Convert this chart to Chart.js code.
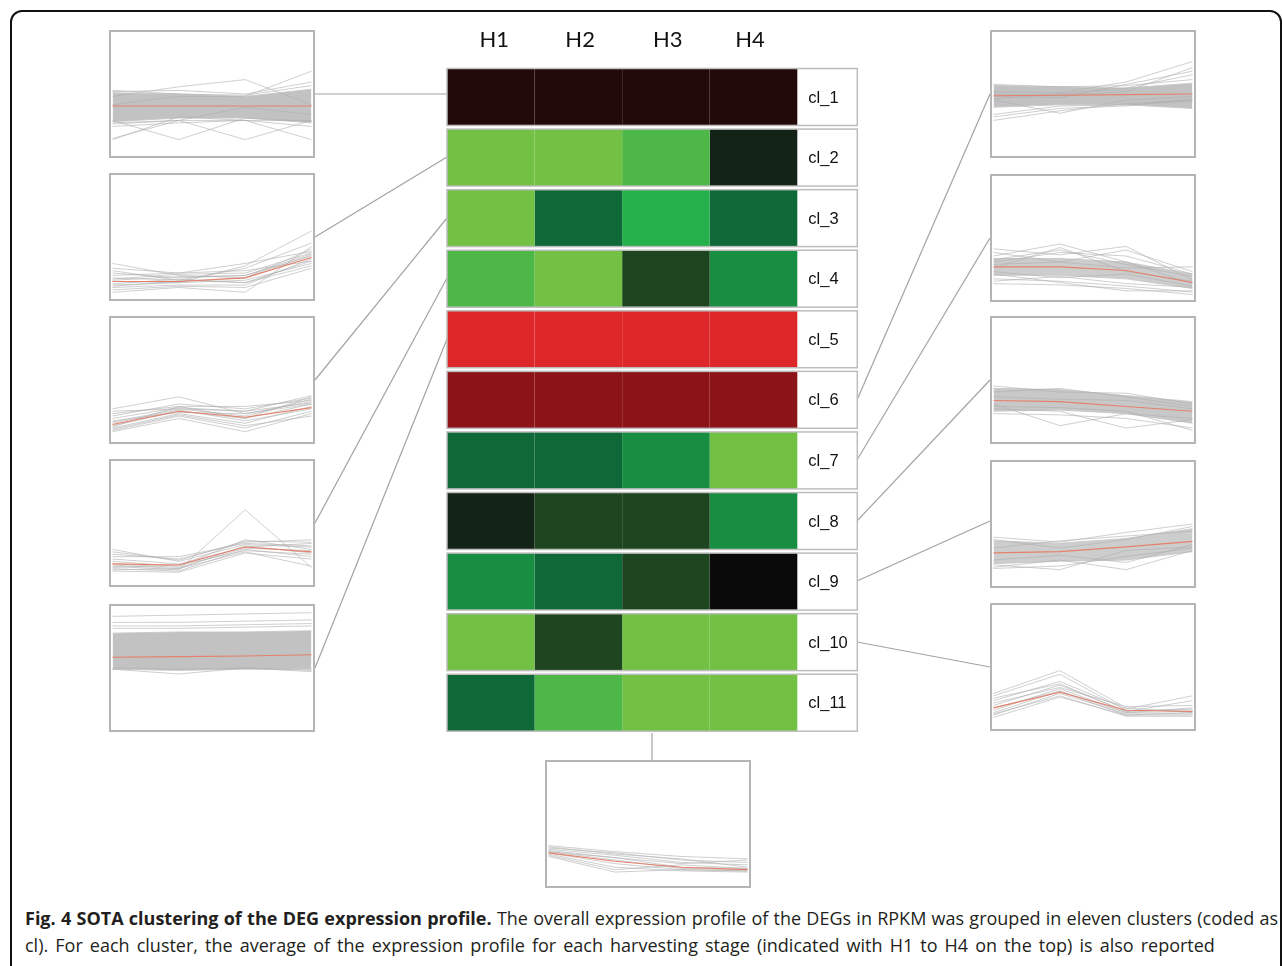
<!DOCTYPE html>
<html>
<head>
<meta charset="utf-8">
<script src="https://cdn.jsdelivr.net/npm/chart.js@4.4.1/dist/chart.umd.min.js"></script>
<style>
  html, body { margin: 0; padding: 0; background: #fff; }
  body { width: 1282px; height: 966px; position: relative; overflow: hidden; }
  .frame { position: absolute; left: 10px; top: 10px; width: 1272px; height: 1000px;
           border: 2px solid #111; border-radius: 12px; box-sizing: border-box; }
  .panel { position: absolute; width: 206px; height: 128px; box-sizing: border-box;
           border: 2px solid #b5b5b5; background: #fff; }
  .panel canvas { position: absolute; left: 0; top: 0; }
  #heat { position: absolute; left: 440px; top: 0px; }
  svg.links { position: absolute; left: 0; top: 0; }
  .caption { position: absolute; left: 25px; top: 905px; width: 1253px;
             font-family: "Open Sans", "Noto Sans", sans-serif; font-size: 18px; line-height: 27px;
             color: #231f20; text-align: justify; }
  .caption b { font-weight: 700; }
  .caption .rest { word-spacing: 2.4px; }
</style>
</head>
<body>
<div class="frame"></div>

<svg class="links" width="1282" height="966">
  <g stroke="#a3a3a3" stroke-width="1.2" fill="none">
    <line x1="315" y1="94"  x2="447" y2="94"/>
    <line x1="315" y1="237" x2="447" y2="157"/>
    <line x1="315" y1="380" x2="447" y2="218"/>
    <line x1="315" y1="523" x2="447" y2="278"/>
    <line x1="315" y1="668" x2="447" y2="339"/>
    <line x1="857" y1="400" x2="990" y2="94"/>
    <line x1="857" y1="460" x2="990" y2="238"/>
    <line x1="857" y1="521" x2="990" y2="380"/>
    <line x1="857" y1="581" x2="990" y2="521"/>
    <line x1="857" y1="642" x2="990" y2="667"/>
    <line x1="652" y1="733" x2="652" y2="760"/>
  </g>
</svg>

<canvas id="heat" width="425" height="740"></canvas>

<div class="panel" style="left:109px;top:30px"><canvas id="p1" width="202" height="124"></canvas></div>
<div class="panel" style="left:109px;top:173px"><canvas id="p2" width="202" height="124"></canvas></div>
<div class="panel" style="left:109px;top:316px"><canvas id="p3" width="202" height="124"></canvas></div>
<div class="panel" style="left:109px;top:459px"><canvas id="p4" width="202" height="124"></canvas></div>
<div class="panel" style="left:109px;top:604px"><canvas id="p5" width="202" height="124"></canvas></div>
<div class="panel" style="left:990px;top:30px"><canvas id="p6" width="202" height="124"></canvas></div>
<div class="panel" style="left:990px;top:174px"><canvas id="p7" width="202" height="124"></canvas></div>
<div class="panel" style="left:990px;top:316px"><canvas id="p8" width="202" height="124"></canvas></div>
<div class="panel" style="left:990px;top:460px"><canvas id="p9" width="202" height="124"></canvas></div>
<div class="panel" style="left:990px;top:603px"><canvas id="p10" width="202" height="124"></canvas></div>
<div class="panel" style="left:545px;top:760px"><canvas id="p11" width="202" height="124"></canvas></div>

<div class="caption"><b>Fig. 4 SOTA clustering of the DEG expression profile.</b> The overall expression profile of the DEGs in RPKM was grouped in eleven clusters (coded as<span class="rest"> cl). For each cluster, the average of the expression profile for each harvesting stage (indicated with H1 to H4 on the top) is also reported</span></div>

<script>
// ---- heatmap: harvesting stages x clusters ----
const stages = ['H1', 'H2', 'H3', 'H4'];
const clusters = ['cl_1', 'cl_2', 'cl_3', 'cl_4', 'cl_5', 'cl_6', 'cl_7', 'cl_8', 'cl_9', 'cl_10', 'cl_11'];
// where each stage heading sits along the stage axis
const stageTickPos = [0.54, 1.52, 2.52, 3.46];

// average expression colour of each cluster at each stage (red = up, green = down)
const h1Colors = ['#220a0b', '#72c145', '#72c145', '#4db848', '#dd2728', '#8c1419', '#0f6837', '#132317', '#178e41', '#72c145', '#0f6837'];
const h2Colors = ['#220a0b', '#72c145', '#0f6837', '#72c145', '#dd2728', '#8c1419', '#0f6837', '#1c4520', '#0f6837', '#1c4520', '#4db848'];
const h3Colors = ['#220a0b', '#4db848', '#25b04b', '#1c4520', '#dd2728', '#8c1419', '#178e41', '#1c4520', '#1c4520', '#72c145', '#72c145'];
const h4Colors = ['#220a0b', '#132317', '#0f6837', '#178e41', '#dd2728', '#8c1419', '#72c145', '#178e41', '#0a0a0a', '#72c145', '#72c145'];
const stageColors = [h1Colors, h2Colors, h3Colors, h4Colors];

// each stage cell spans one unit; the name cell is narrower
const cellWidth = 1;
const nameCellWidth = 0.685;

const rowFrame = {
  id: 'rowFrame',
  afterDatasetsDraw(chart) {
    const ctx = chart.ctx;
    const first = chart.getDatasetMeta(0).data;
    const last = chart.getDatasetMeta(stages.length).data;
    ctx.save();
    ctx.strokeStyle = '#bdbdbd';
    ctx.lineWidth = 1.5;
    first.forEach((bar, i) => {
      const p = bar.getProps(['y', 'base', 'height'], true);
      const right = last[i].getProps(['x'], true).x;
      ctx.strokeRect(p.base, p.y - p.height / 2, right - p.base, p.height);
    });
    ctx.fillStyle = '#111';
    ctx.font = '16.5px "Liberation Sans", Arial, sans-serif';
    ctx.textAlign = 'left';
    ctx.textBaseline = 'middle';
    last.forEach((bar, i) => {
      const p = bar.getProps(['y', 'base'], true);
      ctx.fillText(clusters[i], p.base + 11, p.y + 1);
    });
    ctx.restore();
  }
};

const heatDatasets = stages.map((s, k) => ({
  label: s,
  data: clusters.map(() => cellWidth),
  backgroundColor: stageColors[k],
  borderWidth: 0,
  barPercentage: 0.94,
  categoryPercentage: 1
}));
heatDatasets.push({
  label: 'cluster',
  data: clusters.map(() => nameCellWidth),
  backgroundColor: '#ffffff',
  borderWidth: 0,
  barPercentage: 0.94,
  categoryPercentage: 1
});

new Chart(document.getElementById('heat'), {
  type: 'bar',
  data: { labels: clusters, datasets: heatDatasets },
  options: {
    indexAxis: 'y',
    responsive: false,
    animation: false,
    layout: { padding: { left: 7, right: 7.7, top: 0, bottom: 7 } },
    plugins: { legend: { display: false }, tooltip: { enabled: false } },
    scales: {
      x: {
        type: 'linear', position: 'top', stacked: true,
        min: 0, max: stages.length * cellWidth + nameCellWidth,
        grid: { display: false, drawTicks: false },
        border: { display: false },
        afterBuildTicks(scale) { scale.ticks = stageTickPos.map(v => ({ value: v })); },
        afterFit(scale) { scale.height = 66.7; },
        ticks: {
          padding: 14,
          color: '#111',
          font: { family: 'Lato, "Open Sans", sans-serif', size: 22 },
          callback: (v) => stages[stageTickPos.indexOf(v)]
        }
      },
      y: { stacked: true, display: false }
    }
  },
  plugins: [rowFrame]
});

// ---- expression profiles of every cluster (relative RPKM, 4 stages) ----
const cl1Mean = [40, 40, 40, 40];
const cl1Upper = [51, 50, 48, 54];
const cl1Lower = [27, 30, 30, 26];
const cl1Lines = [[48, 56, 62, 41], [41, 48, 48, 69], [13, 28, 39, 33], [28, 12, 30, 27], [26, 28, 12, 28], [23, 26, 28, 12], [12, 31, 28, 28], [53, 50, 49, 57], [25, 28, 28, 23], [52, 53, 50, 60]];

const cl2Mean = [13, 13, 16, 33];
const cl2Lines = [[28, 18, 16, 40], [24, 20, 22, 30], [20, 16, 18, 36], [16, 14, 24, 45], [13, 12, 26, 55], [10, 12, 14, 28], [8, 10, 10, 32], [6, 9, 8, 24], [4, 8, 4, 42], [18, 20, 28, 38], [14, 17, 18, 34], [11, 15, 12, 30], [22, 14, 12, 26], [15, 19, 20, 37], [9, 13, 16, 35]];

const cl3Mean = [13, 24, 19, 27];
const cl3Lines = [[26, 36, 22, 30], [22, 28, 28, 33], [18, 27, 24, 37], [15, 26, 20, 34], [12, 24, 18, 30], [10, 22, 14, 28], [8, 20, 10, 24], [7, 18, 7, 22], [20, 30, 26, 35], [14, 25, 16, 26], [24, 26, 24, 31], [16, 23, 22, 32], [9, 21, 12, 20], [11, 28, 18, 36]];

const cl4Mean = [16, 15, 30, 26];
const cl4Lines = [[28, 18, 32, 30], [24, 20, 34, 36], [20, 16, 30, 33], [18, 14, 36, 28], [15, 12, 31, 25], [12, 10, 28, 22], [10, 9, 25, 20], [22, 22, 33, 31], [16, 13, 29, 27], [13, 15, 27, 24], [26, 19, 35, 34], [11, 12, 26, 14], [14, 11, 61, 13]];

const cl5Mean = [59, 59.5, 60, 61];
const cl5Upper = [79, 80, 80, 81];
const cl5Lower = [49, 48, 49, 49];
const cl5Lines = [[93, 94, 95, 96], [88, 88, 89, 90], [85, 85, 86, 87], [83, 83, 84, 85], [49, 45, 50, 47], [50, 49, 50, 48]];

const cl6Mean = [48.5, 49, 49.5, 50];
const cl6Upper = [57, 56, 55, 59];
const cl6Lower = [39, 41, 41, 38];
const cl6Lines = [[52, 51, 60, 77], [50, 49, 52, 72], [48, 47, 58, 69], [46, 50, 55, 66], [28, 36, 42, 45], [45, 34, 45, 48], [31, 38, 40, 46], [33, 40, 41, 44], [58, 56, 57, 62]];

const cl7Mean = [26, 26, 23, 13];
const cl7Upper = [33, 33, 30, 20];
const cl7Lower = [19, 19, 16, 8];
const cl7Lines = [[41, 36, 43, 15], [35, 45, 30, 12], [32, 40, 28, 18], [30, 38, 35, 20], [28, 30, 25, 26], [22, 17, 20, 10], [16, 14, 10, 5], [12, 11, 8, 3], [14, 18, 12, 9], [25, 42, 22, 14], [38, 30, 40, 22], [20, 13, 6, 6]];

const cl8Mean = [33, 32, 28, 24];
const cl8Upper = [43, 42, 37, 32];
const cl8Lower = [24, 25, 22, 14];
const cl8Lines = [[30, 12, 22, 18], [26, 24, 10, 17], [28, 27, 24, 8], [45, 40, 39, 30], [40, 43, 36, 28], [22, 21, 18, 10], [36, 34, 33, 26]];

const cl9Mean = [26, 27, 31, 35.5];
const cl9Upper = [36, 34, 38, 46];
const cl9Lower = [17, 19, 20, 27];
const cl9Lines = [[39, 35, 43, 50], [37, 30, 37, 48], [13, 15, 23, 30], [14, 20, 12, 28], [16, 12, 28, 31], [20, 24, 18, 33], [30, 36, 40, 44]];

const cl10Mean = [16, 29, 14, 13];
const cl10Lines = [[28, 47, 16, 12], [26, 44, 14, 14], [22, 38, 15, 26], [18, 35, 13, 22], [14, 32, 12, 16], [12, 30, 12, 13], [10, 28, 11, 11], [8, 25, 10, 10], [20, 33, 17, 18], [16, 30, 10, 12], [24, 36, 13, 15], [11, 26, 9, 9]];

const cl11Mean = [26, 19, 14, 12];
const cl11Lines = [[32, 27, 23, 21], [30, 26, 20, 18], [29, 24, 18, 16], [28, 22, 14, 13], [27, 20, 13, 12], [26, 17, 12, 11], [25, 14, 11, 10], [24, 12, 16, 13], [23, 10, 12, 11], [31, 25, 21, 14], [27, 22, 17, 20]];

function profileChart(id, mean, lines, upper, lower, bandColor) {
  const sets = [{ data: mean, borderColor: '#e5806a', borderWidth: 1.1 }];
  lines.forEach(l => sets.push({ data: l, borderColor: 'rgba(175,175,175,0.6)', borderWidth: 1 }));
  if (upper) {
    sets.push({ data: upper, borderColor: 'rgba(200,200,200,0.9)', borderWidth: 1 });
    sets.push({ data: lower, borderColor: 'rgba(200,200,200,0.9)', borderWidth: 1, fill: '-1', backgroundColor: bandColor });
  }
  sets.forEach(s => { s.pointRadius = 0; s.tension = 0; if (!s.fill) s.fill = false; });
  new Chart(document.getElementById(id), {
    type: 'line',
    data: { labels: stages, datasets: sets },
    options: {
      responsive: false,
      animation: false,
      layout: { padding: { left: 1.5, right: 1.5, top: 0, bottom: 0 } },
      plugins: { legend: { display: false }, tooltip: { enabled: false }, filler: { drawTime: 'beforeDatasetsDraw' } },
      scales: {
        x: { display: false, offset: false },
        y: { display: false, min: -1.6, max: 101.6 }
      }
    }
  });
}

profileChart('p1', cl1Mean, cl1Lines, cl1Upper, cl1Lower, '#c2c2c2');
profileChart('p2', cl2Mean, cl2Lines);
profileChart('p3', cl3Mean, cl3Lines);
profileChart('p4', cl4Mean, cl4Lines);
profileChart('p5', cl5Mean, cl5Lines, cl5Upper, cl5Lower, '#c2c2c2');
profileChart('p6', cl6Mean, cl6Lines, cl6Upper, cl6Lower, '#c2c2c2');
profileChart('p7', cl7Mean, cl7Lines, cl7Upper, cl7Lower, '#cdcdcd');
profileChart('p8', cl8Mean, cl8Lines, cl8Upper, cl8Lower, '#c8c8c8');
profileChart('p9', cl9Mean, cl9Lines, cl9Upper, cl9Lower, '#cdcdcd');
profileChart('p10', cl10Mean, cl10Lines);
profileChart('p11', cl11Mean, cl11Lines);
</script>
</body>
</html>
